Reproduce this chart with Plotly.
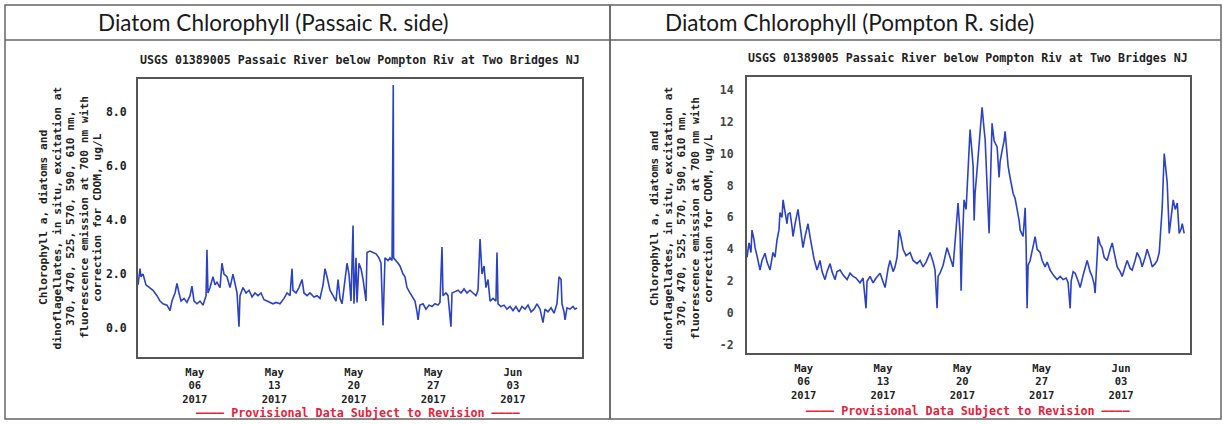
import pandas as pd
import plotly.graph_objects as go

START = pd.Timestamp("2017-05-01 00:00")

# ---- Left panel (Passaic R. side): days since May 1, value ug/L ----
left_days = [0.00, 0.18, 0.26, 0.44, 0.70, 1.06, 1.32, 1.67, 1.94, 2.20, 2.55, 2.82, 2.99, 3.26, 3.43, 3.61,
             3.79, 4.05, 4.31, 4.58, 4.75, 4.93, 5.19, 5.46, 5.72, 5.99, 6.07, 6.16, 6.34, 6.60, 6.78, 6.95,
             7.22, 7.39, 7.57, 7.83, 8.10, 8.36, 8.54, 8.72, 8.89, 8.98, 9.24, 9.51, 9.77, 10.04, 10.30, 10.56,
             10.83, 11.09, 11.36, 11.62, 11.88, 12.15, 12.50, 12.85, 13.12, 13.38, 13.56, 13.64, 13.91, 14.17,
             14.44, 14.61, 14.88, 15.14, 15.49, 15.76, 16.02, 16.29, 16.46, 16.64, 16.90, 17.17, 17.43, 17.61,
             17.78, 17.96, 18.13, 18.40, 18.57, 18.75, 18.93, 19.01, 19.19, 19.28, 19.45, 19.63, 19.81, 20.07,
             20.16, 20.42, 20.69, 20.95, 21.21, 21.39, 21.57, 21.74, 22.01, 22.18, 22.36, 22.44, 22.47, 22.50,
             22.62, 22.89, 23.06, 23.33, 23.50, 23.68, 23.94, 24.21, 24.38, 24.56, 24.65, 24.82, 25.09, 25.35,
             25.62, 25.88, 26.14, 26.41, 26.58, 26.76, 26.85, 27.11, 27.29, 27.55, 27.64, 27.91, 28.17, 28.43,
             28.70, 28.96, 29.23, 29.49, 29.75, 29.93, 30.11, 30.28, 30.46, 30.63, 30.81, 30.99, 31.25, 31.51,
             31.60, 31.69, 31.95, 32.22, 32.48, 32.75, 33.01, 33.27, 33.54, 33.80, 34.07, 34.33, 34.60, 34.86,
             35.12, 35.39, 35.65, 35.83, 36.09, 36.36, 36.62, 36.88, 37.06, 37.24, 37.32, 37.50, 37.59, 37.76,
             38.03, 38.29, 38.47, 38.65]
left_vals = [1.6, 2.2, 1.9, 2.0, 1.6, 1.5, 1.4, 1.2, 1.0, 0.9, 0.85, 0.65, 1.0, 1.3, 1.65, 1.3,
             1.0, 1.1, 0.95, 1.2, 1.55, 1.0, 0.9, 1.0, 0.85, 1.2, 2.9, 1.3, 1.5, 1.9, 1.6, 1.7,
             1.5, 2.4, 2.0, 1.9, 1.5, 2.0, 1.6, 1.3, 0.05, 1.2, 1.5, 1.3, 1.4, 1.15, 1.3, 1.2,
             1.3, 1.05, 1.0, 0.95, 0.9, 0.95, 0.9, 1.1, 1.3, 1.2, 2.2, 1.4, 1.3, 1.5,
             1.8, 1.3, 1.2, 1.3, 1.15, 1.2, 1.1, 1.6, 2.2, 1.9, 1.4, 1.2, 1.0, 1.8,
             1.1, 0.9, 1.5, 2.4, 2.0, 1.0, 3.8, 0.9, 2.6, 0.95, 2.4, 2.2, 1.8, 1.0,
             2.8, 2.85, 2.8, 2.75, 2.6, 2.4, 0.1, 2.6, 2.5, 2.6, 2.5, 5.7, 9.0, 2.6,
             2.55, 2.4, 2.3, 2.0, 1.9, 1.5, 1.3, 1.1, 1.0, 0.6, 0.3, 0.85, 0.9, 0.7,
             0.85, 0.8, 0.9, 0.85, 0.95, 3.0, 1.2, 1.3, 1.2, 0.05, 1.3, 1.35, 1.4, 1.3,
             1.45, 1.3, 1.4, 1.3, 1.2, 1.4, 3.3, 2.0, 2.3, 1.5, 1.8, 1.0, 1.1, 1.0,
             2.8, 0.9, 0.8, 0.85, 0.7, 0.8, 0.65, 0.8, 0.6, 0.8, 0.7, 0.85, 0.6, 0.7,
             0.9, 0.7, 0.2, 0.7, 0.6, 0.75, 0.55, 0.9, 1.9, 1.8, 0.9, 0.6, 0.3, 0.75,
             0.7, 0.8, 0.7, 0.75]

# ---- Right panel (Pompton R. side) ----
right_days = [0.00, 0.18, 0.35, 0.44, 0.62, 0.71, 0.88, 1.15, 1.32, 1.59, 1.77, 2.03, 2.29, 2.47, 2.65, 2.82,
              2.91, 3.09, 3.18, 3.35, 3.53, 3.62, 3.80, 3.97, 4.06, 4.24, 4.50, 4.68, 4.94, 5.12, 5.38, 5.56,
              5.74, 5.91, 6.18, 6.44, 6.62, 6.88, 7.06, 7.33, 7.50, 7.77, 7.94, 8.21, 8.47, 8.83, 9.09, 9.36,
              9.62, 9.97, 10.24, 10.50, 10.59, 10.86, 11.12, 11.39, 11.74, 11.92, 12.18, 12.45, 12.62, 12.89,
              13.06, 13.24, 13.42, 13.59, 13.77, 14.03, 14.39, 14.65, 15.00, 15.27, 15.53, 15.80, 16.15, 16.42,
              16.59, 16.77, 16.86, 17.03, 17.30, 17.65, 17.92, 18.18, 18.36, 18.53, 18.62, 18.80, 18.89, 18.98,
              19.15, 19.33, 19.51, 19.68, 19.86, 19.95, 20.04, 20.12, 20.30, 20.48, 20.74, 20.92, 21.01, 21.18,
              21.27, 21.36, 21.45, 21.62, 21.80, 22.07, 22.24, 22.33, 22.51, 22.68, 22.77, 22.95, 23.04, 23.21,
              23.48, 23.65, 23.83, 24.01, 24.10, 24.36, 24.54, 24.62, 24.71, 24.80, 24.98, 25.24, 25.42, 25.60,
              25.86, 26.04, 26.30, 26.48, 26.74, 27.01, 27.36, 27.63, 27.89, 28.16, 28.33, 28.51, 28.60, 28.77,
              28.95, 29.22, 29.39, 29.66, 30.01, 30.27, 30.45, 30.63, 30.71, 30.89, 30.98, 31.16, 31.33, 31.51,
              31.77, 32.04, 32.22, 32.48, 32.66, 32.92, 33.10, 33.36, 33.54, 33.80, 33.98, 34.24, 34.42, 34.69,
              34.86, 35.13, 35.30, 35.57, 35.75, 36.01, 36.19, 36.37, 36.45, 36.63, 36.81, 36.98, 37.07, 37.25,
              37.43, 37.60, 37.78, 37.96, 38.13, 38.31, 38.40, 38.48, 38.57]
right_vals = [3.5, 4.4, 3.8, 5.2, 4.6, 4.1, 3.6, 2.7, 3.3, 3.75, 3.2, 2.7, 3.8, 3.5, 4.6, 5.2,
              6.3, 6.0, 7.1, 6.4, 5.6, 6.2, 6.3, 5.4, 4.8, 5.6, 6.5, 5.5, 4.1, 4.8, 5.6, 4.8,
              4.0, 3.4, 2.7, 3.3, 2.6, 2.1, 2.6, 3.1, 2.6, 2.1, 2.6, 2.7, 2.4, 2.1, 2.5, 2.3,
              2.2, 1.9, 2.2, 0.3, 2.0, 2.3, 1.9, 2.2, 2.5, 2.1, 1.6, 2.8, 3.3, 2.6,
              2.9, 3.5, 5.2, 4.7, 4.0, 3.6, 3.8, 3.3, 3.1, 3.3, 2.9, 3.2, 3.8, 3.2,
              2.7, 0.3, 2.3, 2.5, 3.0, 4.1, 3.4, 2.9, 4.5, 6.5, 6.9, 5.0, 1.4, 4.0,
              7.1, 6.5, 9.5, 11.5, 10.0, 9.2, 5.8, 7.5, 9.0, 10.5, 12.9, 11.5, 10.9, 8.0,
              6.6, 5.0, 7.5, 11.9, 10.8, 10.4, 8.5, 9.5, 10.2, 10.8, 11.4, 10.0, 9.2, 8.5,
              7.5, 7.2, 6.6, 5.8, 5.2, 4.8, 6.6, 4.5, 0.3, 3.0, 3.3, 4.2, 4.8, 4.0,
              3.8, 3.3, 2.9, 3.2, 2.7, 2.4, 2.1, 2.3, 2.1, 2.2, 1.9, 0.3, 2.0, 2.6,
              2.5, 2.0, 1.6, 2.4, 3.3, 2.6, 2.3, 1.8, 1.25, 3.5, 4.8, 4.3, 4.1, 3.5,
              3.3, 4.0, 4.4, 3.5, 2.9, 2.6, 2.3, 2.9, 3.3, 2.8, 2.7, 3.3, 3.8, 3.4,
              2.9, 3.5, 4.0, 3.4, 2.9, 3.1, 3.3, 3.8, 4.6, 6.6, 10.0, 9.0, 8.2, 5.0,
              6.0, 7.1, 6.5, 6.9, 5.0, 5.3, 5.6, 5.2, 5.0]

tick_dates = ["2017-05-06", "2017-05-13", "2017-05-20", "2017-05-27", "2017-06-03"]
tick_text = ["May<br>06<br>2017", "May<br>13<br>2017", "May<br>20<br>2017", "May<br>27<br>2017", "Jun<br>03<br>2017"]
left_yticks = [0, 2, 4, 6, 8]
right_yticks = [-2, 0, 2, 4, 6, 8, 10, 12, 14]

panel_titles = ["Diatom Chlorophyll (Passaic R. side)", "Diatom Chlorophyll (Pompton R. side)"]
station = "USGS 01389005 Passaic River below Pompton Riv at Two Bridges NJ"
ytitle_lines = ["Chlorophyll a, diatoms and",
                "dinoflagellates, in situ, excitation at",
                "370, 470, 525, 570, 590, 610 nm,",
                "fluorescence emission at 700 nm with",
                "correction for CDOM, ug/L"]
provisional = "———— Provisional Data Subject to Revision ————"

W, H = 1223, 424
def px(x): return x / W
def py(y): return 1 - y / H

MONO = "DejaVu Sans Mono"
LINE = "#2c42c4"

fig = go.Figure()
fig.add_trace(go.Scatter(x=START + pd.to_timedelta(left_days, unit="D"), y=left_vals,
                         mode="lines", line=dict(color=LINE, width=1.6), xaxis="x", yaxis="y",
                         showlegend=False))
fig.add_trace(go.Scatter(x=START + pd.to_timedelta(right_days, unit="D"), y=right_vals,
                         mode="lines", line=dict(color=LINE, width=1.6), xaxis="x2", yaxis="y2",
                         showlegend=False))

xr = ["2017-05-01 00:00", "2017-06-09 02:00"]
axis_common = dict(showgrid=False, zeroline=False, showline=True, mirror=True,
                   linecolor="#555555", linewidth=2, ticks="", fixedrange=True)
xfont = dict(family=MONO, size=10.5, color="#222222", weight="bold")

fig.update_layout(
    width=W, height=H, margin=dict(l=0, r=0, t=0, b=0),
    paper_bgcolor="white", plot_bgcolor="white",
    xaxis=dict(domain=[px(138), px(582)], anchor="y", type="date", range=xr,
               tickvals=tick_dates, ticktext=tick_text, tickfont=xfont, ticklabelstandoff=4, **axis_common),
    yaxis=dict(domain=[py(357), py(79)], anchor="x", range=[-1.07, 9.22],
               tickvals=left_yticks, ticktext=[f"{v:.1f}" for v in left_yticks],
               tickfont=dict(family=MONO, size=11.5, color="#222222", weight="bold"),
               ticklabelstandoff=7, **axis_common),
    xaxis2=dict(domain=[px(747), px(1190)], anchor="y2", type="date", range=xr,
                tickvals=tick_dates, ticktext=tick_text, tickfont=xfont, ticklabelstandoff=4, **axis_common),
    yaxis2=dict(domain=[py(353), py(77)], anchor="x2", range=[-2.5, 14.8],
                tickvals=right_yticks, ticktext=[str(v) for v in right_yticks],
                tickfont=dict(family=MONO, size=11.5, color="#444444", weight="bold"),
                ticklabelstandoff=9, **axis_common),
)

shapes = []
gray = dict(color="#666666", width=1.5)
# outer panel frames and title bars
for x0, x1 in [(5, 610), (610, 1221)]:
    shapes.append(dict(type="rect", xref="paper", yref="paper", x0=px(x0), x1=px(x1), y0=py(419), y1=py(5), line=gray))
    shapes.append(dict(type="line", xref="paper", yref="paper", x0=px(x0), x1=px(x1), y0=py(40), y1=py(40), line=gray))
fig.update_layout(shapes=shapes)

ann = []
def add(cx, cy, text, font, **kw):
    ann.append(dict(x=px(cx), y=py(cy), xref="paper", yref="paper", text=text, showarrow=False,
                    xanchor="center", yanchor="middle", font=font, **kw))

for cx, t in [(273, panel_titles[0]), (849, panel_titles[1])]:
    add(cx, 22, t, dict(family="Lato", size=22.5, color="#1a1a1a"))
for cx, cy in [(360, 60), (968, 58)]:
    add(cx, cy, station, dict(family=MONO, size=11.6, color="#222222", weight="bold"))
for x0, cy in [(43, 218), (654, 218)]:
    for i, line in enumerate(ytitle_lines):
        add(x0 + 13.5 * i, cy, line, dict(family=MONO, size=11.2, color="#222222", weight="bold"),
            textangle=-90)
for cx, cy in [(358, 413), (968, 411)]:
    add(cx, cy, provisional, dict(family=MONO, size=11.7, color="#e8203a", weight="bold"))
fig.update_layout(annotations=ann)

fig.write_html("out.html")
